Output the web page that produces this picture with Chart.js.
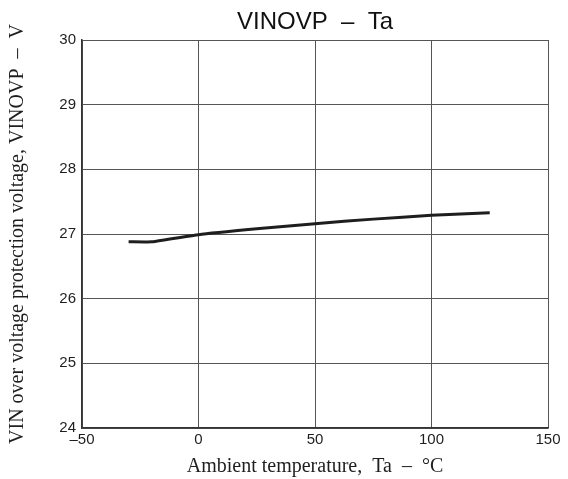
<!DOCTYPE html>
<html>
<head>
<meta charset="utf-8">
<script src="https://cdn.jsdelivr.net/npm/chart.js@4/dist/chart.umd.min.js"></script>
<style>
  html, body { margin: 0; padding: 0; background: #fff; }
  #wrap { width: 568px; height: 479px; }
</style>
</head>
<body>
<div id="wrap"><canvas id="ovpChart"></canvas></div>
<script>
// Ambient temperature (°C) and VINOVP (V)
const temps = [-30, -20, 0, 25, 50, 75, 100, 125];
const vinovp = [26.88, 26.88, 26.99, 27.08, 27.16, 27.23, 27.29, 27.33];

const xTicks = [-50, 0, 50, 100, 150];
const yTicks = [24, 25, 26, 27, 28, 29, 30];

const chartTitle = 'VINOVP  \u2013  Ta';

const sans = "'Liberation Sans', Arial, sans-serif";
const serif = "'Liberation Serif', 'Times New Roman', serif";

const points = temps.map((t, i) => ({ x: t, y: vinovp[i] }));

// title centred over the plot area, not the whole canvas
const plotTitle = {
  id: 'plotTitle',
  afterDraw(chart) {
    const { ctx, chartArea } = chart;
    ctx.save();
    ctx.font = '24px ' + sans;
    ctx.fillStyle = '#111';
    ctx.textAlign = 'center';
    ctx.textBaseline = 'alphabetic';
    ctx.fillText(chartTitle, (chartArea.left + chartArea.right) / 2, 29);
    ctx.restore();
  }
};

const ctx = document.getElementById('ovpChart').getContext('2d');
new Chart(ctx, {
  type: 'line',
  data: {
    datasets: [{
      data: points,
      borderColor: '#1e1e1e',
      borderWidth: 3,
      pointRadius: 0,
      fill: false,
      tension: 0.15
    }]
  },
  options: {
    responsive: true,
    maintainAspectRatio: false,
    animation: false,
    layout: { padding: { left: 0, right: 20, top: 40, bottom: 0 } },
    plugins: {
      legend: { display: false },
      tooltip: { enabled: false },
      title: { display: false }
    },
    scales: {
      x: {
        type: 'linear',
        min: xTicks[0],
        max: xTicks[xTicks.length - 1],
        afterBuildTicks: s => { s.ticks = xTicks.map(v => ({ value: v })); },
        afterFit: s => { s.height = 51; },
        ticks: {
          color: '#1e1e1e',
          font: { family: sans, size: 15 },
          padding: 3,
          maxRotation: 0,
          callback: v => String(v).replace('-', '\u2013')
        },
        grid: { color: '#555', lineWidth: 1, drawTicks: false },
        border: { color: '#333', width: 1.5 },
        title: {
          display: true,
          text: 'Ambient temperature,  Ta  \u2013  \u00B0C',
          color: '#1e1e1e',
          font: { family: serif, size: 20 },
          padding: { top: 4, bottom: 0 }
        }
      },
      y: {
        type: 'linear',
        min: yTicks[0],
        max: yTicks[yTicks.length - 1],
        afterBuildTicks: s => { s.ticks = yTicks.map(v => ({ value: v })); },
        afterFit: s => { s.width = 82; },
        ticks: {
          color: '#1e1e1e',
          font: { family: sans, size: 15 },
          padding: 6
        },
        grid: { color: '#555', lineWidth: 1, drawTicks: false },
        border: { color: '#333', width: 1.5 },
        title: {
          display: true,
          text: 'VIN over voltage protection voltage, VINOVP  \u2013  V',
          color: '#1e1e1e',
          font: { family: serif, size: 20 },
          padding: { top: 6, bottom: 0 }
        }
      }
    }
  },
  plugins: [plotTitle]
});
</script>
</body>
</html>
